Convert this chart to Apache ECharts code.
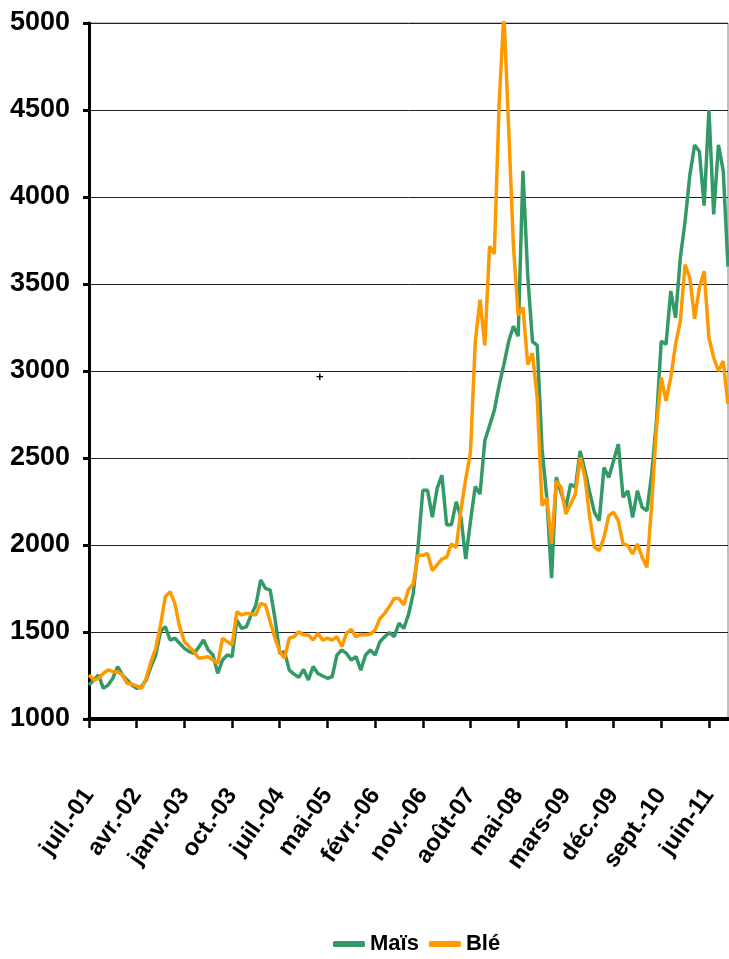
<!DOCTYPE html>
<html>
<head>
<meta charset="utf-8">
<script src="https://cdn.jsdelivr.net/npm/echarts@6.0.0/dist/echarts.min.js"></script>
<style>
  body { margin: 0; background: #fff; }
  #main { width: 729px; height: 959px; }
</style>
</head>
<body>
<div id="main"></div>
<script>
// one tick label every 10 points
var xLabels = ['juil.-01', 'avr.-02', 'janv.-03', 'oct.-03', 'juil.-04', 'mai-05', 'févr.-06',
    'nov.-06', 'août-07', 'mai-08', 'mars-09', 'déc.-09', 'sept.-10', 'juin-11'];

var mais = [
    1195, 1224, 1253, 1176, 1195, 1234, 1301, 1253, 1224, 1195,
    1176, 1186, 1224, 1301, 1368, 1502, 1531, 1454, 1464, 1435,
    1406, 1387, 1377, 1412, 1454, 1397, 1368, 1262, 1339, 1368,
    1358, 1569, 1521, 1530, 1598, 1655, 1799, 1751, 1741, 1578,
    1377, 1387, 1281, 1258, 1239, 1285, 1224, 1301, 1262, 1247,
    1234, 1243, 1368, 1396, 1377, 1339, 1358, 1281, 1368, 1396,
    1368, 1444, 1473, 1496, 1473, 1550, 1521, 1600, 1722, 1985,
    2314, 2314, 2160, 2325, 2401, 2116, 2116, 2248, 2160, 1919,
    2138, 2336, 2292, 2599, 2686, 2774, 2917, 3037, 3169, 3257,
    3200, 4150, 3550, 3169, 3147, 2555, 2270, 1809, 2390, 2300,
    2216, 2350, 2331, 2541, 2427, 2302, 2188, 2140, 2446, 2388,
    2484, 2579, 2274, 2312, 2159, 2312, 2216, 2197, 2407, 2713,
    3172, 3153, 3459, 3306, 3650, 3860, 4127, 4299, 4261, 3950,
    4500, 3900, 4300, 4150, 3600
];

var ble = [
    1253, 1224, 1234, 1262, 1282, 1272, 1272, 1253, 1205, 1201,
    1190, 1176, 1234, 1330, 1406, 1540, 1703, 1732, 1665, 1531,
    1445, 1416, 1387, 1349, 1353, 1358, 1339, 1320, 1464, 1445,
    1425, 1617, 1598, 1607, 1603, 1598, 1665, 1655, 1559, 1464,
    1387, 1349, 1464, 1473, 1502, 1483, 1483, 1454, 1492, 1454,
    1464, 1454, 1473, 1416, 1492, 1515, 1473, 1486, 1483, 1488,
    1511, 1578, 1607, 1646, 1693, 1693, 1655, 1744, 1776, 1941,
    1941, 1952, 1853, 1886, 1919, 1930, 2007, 1985, 2204, 2379,
    2533, 3169, 3410, 3147, 3717, 3673, 4529, 5060, 4400, 3717,
    3322, 3366, 3037, 3103, 2840, 2226, 2270, 2007, 2368, 2330,
    2178, 2235, 2293, 2503, 2388, 2159, 1987, 1968, 2044, 2169,
    2188, 2140, 2006, 1997, 1949, 2006, 1930, 1872, 2235, 2675,
    2962, 2828, 2962, 3153, 3287, 3611, 3535, 3300, 3478, 3573,
    3191, 3076, 3000, 3057, 2809
];

var categories = [];
for (var i = 0; i < mais.length; i++) {
    categories.push(i % 10 == 0 ? xLabels[i / 10] : '');
}

var font = "'Liberation Sans', Arial, sans-serif";

var myChart = echarts.init(document.getElementById('main'));

var option = {
    animation: false,
    backgroundColor: '#fff',
    grid: {
        left: 89, right: 1, top: 23, bottom: 240,
        containLabel: false,
        outerBoundsMode: 'none',
        show: true, borderColor: '#808080', borderWidth: 1
    },
    legend: {
        data: ['Maïs', 'Blé'],
        left: 328,
        top: 928,
        icon: 'roundRect',
        itemWidth: 32,
        itemHeight: 6,
        itemGap: 10,
        textStyle: { fontFamily: font, fontWeight: 'bold', fontSize: 22, color: '#000' }
    },
    xAxis: {
        type: 'category',
        boundaryGap: false,
        data: categories,
        axisLine: { lineStyle: { color: '#000', width: 4 } },
        axisTick: { show: true, interval: 9, length: 9, lineStyle: { color: '#000', width: 2.5 } },
        axisLabel: {
            interval: 9,
            rotate: 55,
            margin: 72,
            color: '#000',
            fontFamily: font,
            fontWeight: 'bold',
            fontSize: 24
        },
        splitLine: { show: false }
    },
    yAxis: {
        type: 'value',
        min: 1000,
        max: 5000,
        interval: 500,
        axisLine: { show: true, lineStyle: { color: '#000', width: 3 } },
        axisTick: { show: true, length: 6, lineStyle: { color: '#000', width: 3 } },
        axisLabel: {
            margin: 19,
            color: '#000',
            fontFamily: font,
            fontWeight: 'bold',
            fontSize: 27,
            formatter: function (v) { return String(v); }
        },
        splitLine: { lineStyle: { color: '#222', width: 1 } }
    },
    graphic: [{
        type: 'text', left: 316, top: 371,
        style: { text: '+', fontSize: 13, fontWeight: 'bold', fill: '#000' }
    }],
    series: [
        {
            name: 'Maïs',
            type: 'line',
            data: mais,
            showSymbol: false,
            color: '#339966',
            lineStyle: { width: 3.5, color: '#339966' }
        },
        {
            name: 'Blé',
            type: 'line',
            data: ble,
            showSymbol: false,
            color: '#FF9900',
            lineStyle: { width: 3.5, color: '#FF9900' }
        }
    ]
};

myChart.setOption(option);
</script>
</body>
</html>
